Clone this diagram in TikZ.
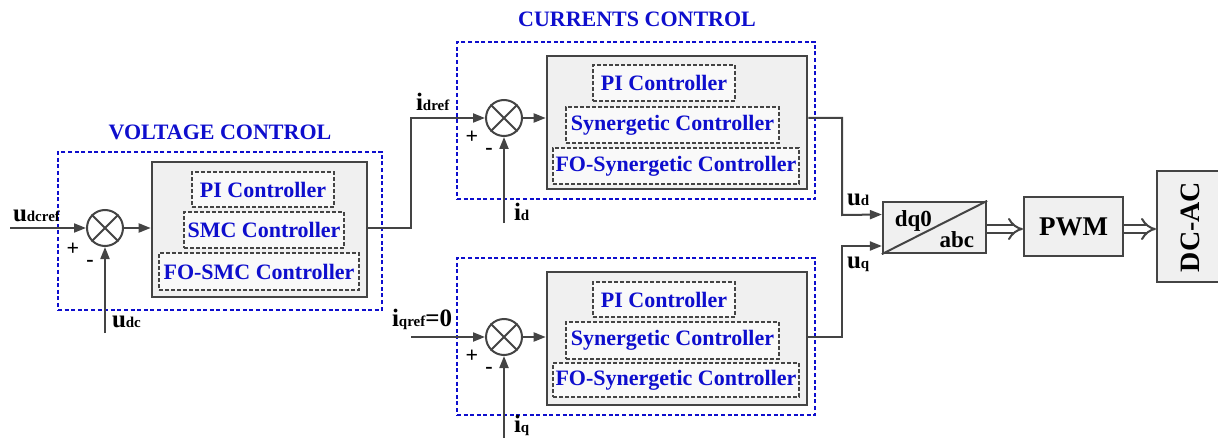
\documentclass[tikz,border=0pt]{standalone}
\usepackage{fontspec}
\setmainfont{Liberation Serif}
\usetikzlibrary{arrows.meta,fit,positioning}

\definecolor{ctlblue}{RGB}{14,14,205}
\definecolor{wiregray}{RGB}{68,68,68}
\newcommand{\sigtxt}[2]{{\fontsize{12.5}{13}\selectfont #1}{\fontsize{7.5}{8}\selectfont #2}}

\begin{document}
\begin{tikzpicture}[x=0.5pt,y=-0.5pt,font=\bfseries,line width=1pt,
  wire/.style={draw=wiregray,line width=1pt,-{Triangle[length=6pt,width=4.5pt]}},
  dblwire/.style={draw=wiregray,line width=1pt,double=white,double distance=2.8pt,-{Implies}},
  region/.style={draw=ctlblue,line width=1.1pt,dash pattern=on 2pt off 1.3pt,inner sep=0pt},
  ctlbox/.style={draw=wiregray,fill=gray!12,line width=1.3pt,inner sep=0pt},
  option/.style={draw=wiregray,fill=gray!5,line width=0.8pt,dash pattern=on 1.8pt off 1.2pt,inner sep=0pt},
  optlab/.style={text=ctlblue,font=\bfseries\fontsize{11}{13}\selectfont,inner sep=0pt},
  blockbox/.style={draw=wiregray,fill=gray!12,line width=1.1pt,inner sep=0pt},
  summer/.style={circle,draw=wiregray,line width=1pt,fill=white,minimum size=18pt,inner sep=0pt},
  title/.style={text=ctlblue,font=\bfseries\fontsize{11}{13}\selectfont},
  sig/.style={inner sep=0pt},
  sign/.style={font=\bfseries\fontsize{11}{11}\selectfont,inner sep=0pt}]
  \useasboundingbox (0,0) rectangle (1218,438);
  \clip (0,0) rectangle (1218,438);

  % voltage loop
  \node[region,fit={(58,152) (382,310)}] (vreg) {};
  \node[title] (vtitle) at (220,132) {VOLTAGE CONTROL};
  \node[ctlbox,fit={(152,162) (367,297)}] (vctl) {};
  \node[option,fit={(192,172) (334,207)}] (vpi) {};
  \node[option,fit={(184,212) (344,248)}] (vsmc) {};
  \node[option,fit={(159,253) (359,290)}] (vfo) {};
  \node[optlab] at (vpi) {PI Controller};
  \node[optlab] at (vsmc) {SMC Controller};
  \node[optlab] at (vfo) {FO-SMC Controller};
  \node[summer] (vsum) at (105,228) {};
  \draw[wiregray,line width=1pt] (vsum.north east) -- (vsum.south west)
    (vsum.north west) -- (vsum.south east);
  \coordinate (udcin) at (10,228);
  \coordinate (udcfb) at (105,333);
  \node[sig,anchor=south west] (udcreflab) at (12,223) {\sigtxt{u}{dcref}};
  \node[sig,anchor=west] (udclab) at (111,322) {\sigtxt{u}{dc}};
  \node[sign] (vplus) at (73,249) {+};
  \node[sign] (vminus) at (90,263) {-};
  \draw[wire] (udcin) -- (vsum);
  \draw[wire] (udcfb) -- (vsum);
  \draw[wire] (vsum) -- (vctl.west |- vsum);

  % d-axis current loop
  \node[region,fit={(457,42) (815,199)}] (dreg) {};
  \node[title] (ctitle) at (637,19) {CURRENTS CONTROL};
  \node[ctlbox,fit={(547,56) (807,189)}] (dctl) {};
  \node[option,fit={(593,65) (735,101)}] (dpi) {};
  \node[option,fit={(566,107) (779,143)}] (dsyn) {};
  \node[option,fit={(553,148) (799,184)}] (dfo) {};
  \node[optlab] at (dpi) {PI Controller};
  \node[optlab] at (dsyn) {Synergetic Controller};
  \node[optlab] at (dfo) {FO-Synergetic Controller};
  \node[summer] (dsum) at (504,118) {};
  \draw[wiregray,line width=1pt] (dsum.north east) -- (dsum.south west)
    (dsum.north west) -- (dsum.south east);
  \coordinate (vbend) at (411,0);
  \coordinate (idfb) at (504,223);
  \node[sig,anchor=south west] (idreflab) at (415,112) {\sigtxt{i}{dref}};
  \node[sig,anchor=west] (idlab) at (513,212) {\sigtxt{i}{d}};
  \node[sign] (dplus) at (472,137) {+};
  \node[sign] (dminus) at (489,151) {-};
  \draw[wire] (vctl.east |- vsum) -| (vbend |- dsum) -- (dsum);
  \draw[wire] (idfb) -- (dsum);
  \draw[wire] (dsum) -- (dctl.west |- dsum);

  % q-axis current loop
  \node[region,fit={(457,258) (815,415)}] (qreg) {};
  \node[ctlbox,fit={(547,272) (807,405)}] (qctl) {};
  \node[option,fit={(593,282) (735,317)}] (qpi) {};
  \node[option,fit={(566,322) (779,359)}] (qsyn) {};
  \node[option,fit={(553,363) (799,397)}] (qfo) {};
  \node[optlab] at (qpi) {PI Controller};
  \node[optlab] at (qsyn) {Synergetic Controller};
  \node[optlab] at (qfo) {FO-Synergetic Controller};
  \node[summer] (qsum) at (504,337) {};
  \draw[wiregray,line width=1pt] (qsum.north east) -- (qsum.south west)
    (qsum.north west) -- (qsum.south east);
  \coordinate (iqin) at (411,337);
  \coordinate (iqfb) at (504,440);
  \node[sig,anchor=south west] (iqreflab) at (391,331) {\sigtxt{i}{qref}{\fontsize{12.5}{13}\selectfont=0}};
  \node[sig,anchor=west] (iqlab) at (513,425) {\sigtxt{i}{q}};
  \node[sign] (qplus) at (472,356) {+};
  \node[sign] (qminus) at (489,370) {-};
  \draw[wire] (iqin) -- (qsum);
  \draw[wire] (iqfb) -- (qsum);
  \draw[wire] (qsum) -- (qctl.west |- qsum);

  % transformation, modulation and inverter
  \node[blockbox,fit={(883,202) (986,253)}] (dq) {};
  \draw[wiregray,line width=1pt] (dq.south west) -- (dq.north east);
  \node[font=\bfseries\fontsize{11.5}{13}\selectfont,anchor=west,inner sep=0pt] (dqlab)
    at ([xshift=6pt,yshift=-10pt]dq.north west) {dq0};
  \node[font=\bfseries\fontsize{11.5}{13}\selectfont,anchor=east,inner sep=0pt] (abclab)
    at ([xshift=-6pt,yshift=7pt]dq.south east) {abc};
  \node[blockbox,fit={(1024,197) (1123,256)}] (pwm) {};
  \node[font=\bfseries\fontsize{13.5}{15}\selectfont,inner sep=0pt] (pwmlab) at (pwm) {PWM};
  \node[blockbox,fit={(1157,171) (1240,282)}] (inv) {};
  \node[rotate=90,font=\bfseries\fontsize{14}{16}\selectfont] (invlab) at (1190,227) {DC-AC};
  \coordinate (ubend) at (842,0);
  \node[sig,anchor=west] (udlab) at (846,200) {\sigtxt{u}{d}};
  \node[sig,anchor=west] (uqlab) at (846,264) {\sigtxt{u}{q}};
  \draw[wire] (dctl.east |- dsum) -| (ubend |- 0,215) -- ([yshift=6.5pt]dq.west);
  \draw[wire] (qctl.east |- qsum) -| (ubend |- 0,246) -- ([yshift=-9.25pt]dq.west);
  \draw[dblwire] (dq.east |- 0,229) -- (pwm.west |- 0,229);
  \draw[dblwire] (pwm.east |- 0,229) -- (inv.west |- 0,229);
\end{tikzpicture}
\end{document}
